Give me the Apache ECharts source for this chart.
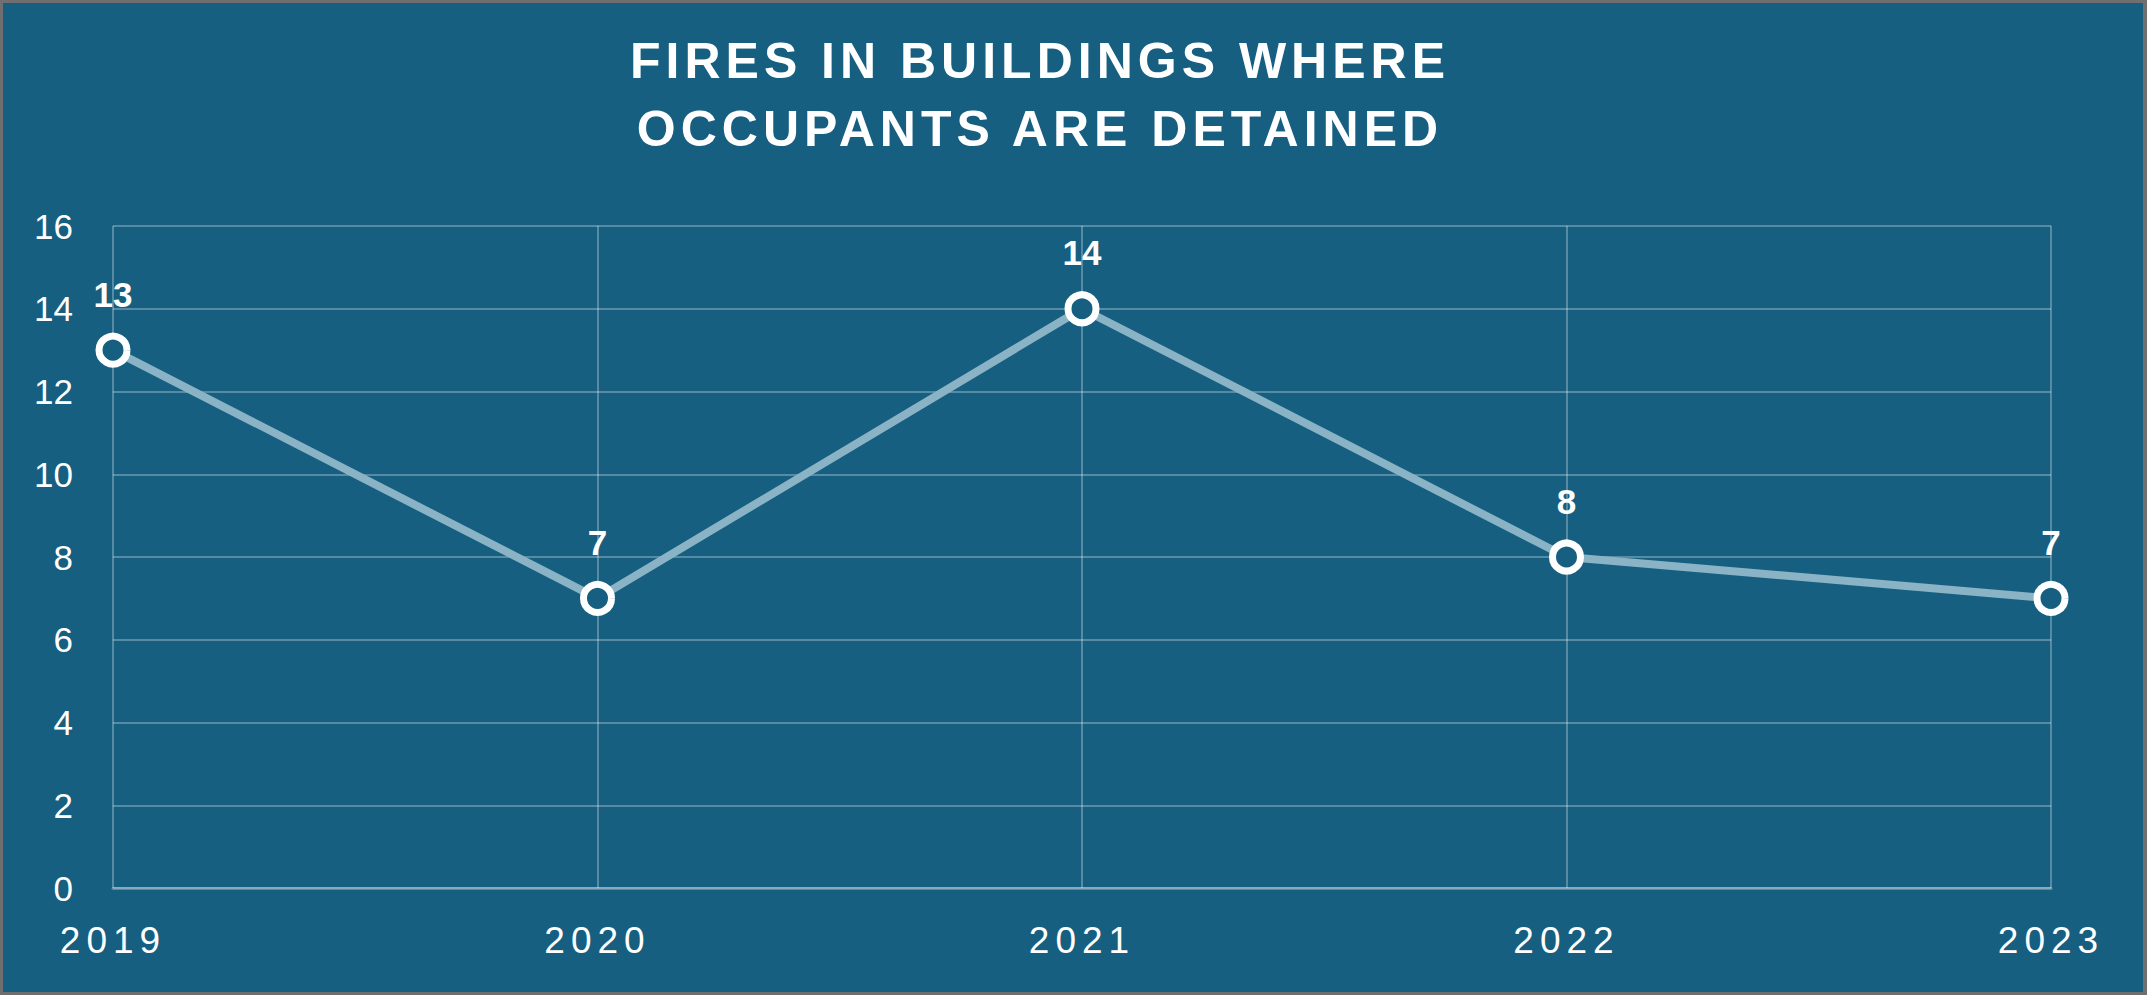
<!DOCTYPE html>
<html>
<head>
<meta charset="utf-8">
<title>Fires in buildings where occupants are detained</title>
<script src="https://cdn.jsdelivr.net/npm/echarts@6/dist/echarts.min.js"></script>
<style>
    html, body { margin: 0; padding: 0; background: #6f6f6f; }
    #fire_main { position: absolute; left: 3px; top: 3px; width: 2140px; height: 989px; background: #165f80; }
    /* svg text: spacing for the title and the year labels */
    #fire_main text[style*="50px"] { letter-spacing: 5px; }
    #fire_main text[style*="37px"] { letter-spacing: 6px; }
</style>
</head>
<body>
<div id="fire_main"></div>
<script>
// data
var years = ['2019', '2020', '2021', '2022', '2023'];
var fires = [13, 7, 14, 8, 7];
var yTicks = [0, 2, 4, 6, 8, 10, 12, 14, 16];

var bgColor = '#165f80';
var gridColor = 'rgba(255,255,255,0.28)';

var fireEchart = echarts.init(document.getElementById('fire_main'), null, {renderer: 'svg'});

var fireOption = {
    backgroundColor: bgColor,
    animation: false,
    title: {
        text: 'FIRES IN BUILDINGS WHERE\nOCCUPANTS ARE DETAINED',
        left: 1037,
        textAlign: 'center',
        top: 24,
        padding: 0,
        textStyle: {
            color: '#ffffff',
            fontFamily: 'Liberation Sans',
            fontWeight: 'bold',
            fontSize: 50,
            lineHeight: 68
        }
    },
    grid: {
        left: 110,
        right: 92,
        top: 223,
        bottom: 104
    },
    xAxis: {
        type: 'category',
        data: years,
        boundaryGap: false,
        axisLine: { lineStyle: { color: gridColor, width: 3 } },
        axisTick: { show: false },
        axisLabel: {
            interval: 0,
            margin: 34,
            color: '#ffffff',
            fontFamily: 'Liberation Sans',
            fontSize: 37
        },
        splitLine: { show: true, lineStyle: { color: gridColor, width: 2 } }
    },
    yAxis: {
        type: 'value',
        min: yTicks[0],
        max: yTicks[yTicks.length - 1],
        interval: yTicks[1] - yTicks[0],
        axisLine: { show: false },
        axisTick: { show: false },
        axisLabel: {
            margin: 40,
            color: '#ffffff',
            fontFamily: 'Liberation Sans',
            fontSize: 35
        },
        splitLine: { lineStyle: { color: gridColor, width: 2 } }
    },
    series: [
        {
            name: 'Fires',
            type: 'line',
            data: fires,
            symbol: 'circle',
            symbolSize: 28,
            lineStyle: { color: '#8ab3c6', width: 8 },
            itemStyle: { color: bgColor, borderColor: '#ffffff', borderWidth: 7 },
            label: {
                show: true,
                position: 'top',
                distance: 21,
                color: '#ffffff',
                fontFamily: 'Liberation Sans',
                fontWeight: 'bold',
                fontSize: 35
            },
            z: 3
        }
    ]
};

fireEchart.setOption(fireOption);
</script>
</body>
</html>
